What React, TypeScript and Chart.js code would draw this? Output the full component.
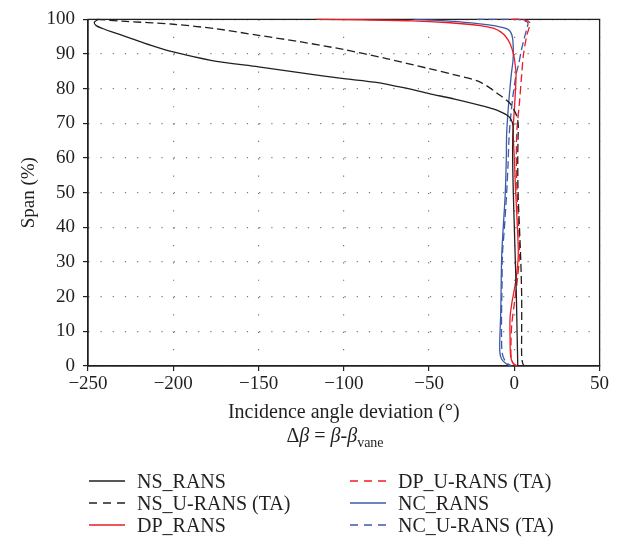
import React, { useEffect, useRef } from 'react';
import { Chart, registerables } from 'chart.js';

Chart.register(...registerables);

// ---------- data (x = incidence angle deviation in degrees, y = span %) ----------
const nsRansX = [-244, -246.3, -245.2, -241, -236, -227, -213, -200, -178, -150, -125, -100, -82, -65, -50, -35, -20, -12, -8, -4, -2, -0.8, -0.9, -1, -0.6, 0, 0.6, 1.2, 1.6, 1.9, 2];
const nsRansY = [100, 99.2, 98.2, 97.3, 96.4, 94.9, 92.5, 90.6, 88.2, 86.3, 84.6, 82.9, 81.9, 80.3, 78.6, 77, 75.2, 74.1, 73.3, 72.3, 71.2, 69.5, 66, 60, 50, 40, 30, 20, 10, 3, 0];

const nsURansX = [-244.5, -230, -200, -175, -150, -125, -100, -75, -50, -35, -20, -8.4, -3, -0.6, 1.5, 2.3, 2.2, 2, 2.2, 3, 3.8, 4.3, 4.3, 4.3, 5, 6];
const nsURansY = [100, 99.5, 98.6, 97.3, 95.4, 93.5, 91.3, 88.7, 85.8, 84, 81.9, 78.1, 76, 74.3, 72, 69.5, 66, 60, 50, 40, 30, 20, 10, 3, 0.6, 0];

const dpRansX = [-116, -90, -60, -40, -20, -12, -8, -5, -2.5, -0.5, 0.5, 1, 0.5, -0.5, -0.6, 0, 0.8, 1.8, 2.3, 1, -1.5, -2.5, -2.5, -2.2, -1, 1];
const dpRansY = [100, 99.9, 99.6, 99.1, 98.2, 97.4, 96.4, 95, 93, 90, 87, 84, 78, 70, 66, 60, 50, 40, 32, 25, 18, 14, 8, 3, 1, 0];

const dpURansX = [-2, 4, 8, 9.2, 8.3, 7.3, 5.3, 4.3, 3, 1.5, 1.2, 1.6, 2.6, 3, 1.8, 0, -1.5, -2, -1.8, -0.5, 2];
const dpURansY = [100, 100, 99.5, 98.8, 97, 95.4, 89.6, 84, 76, 68, 60, 50, 40, 32, 25, 18, 12, 6, 2, 0.7, 0];

const ncRansX = [-59, -40, -25, -15, -8, -4, -2, -1, -0.6, -0.8, -1.8, -3.3, -4.5, -4.7, -5.3, -6.5, -7.4, -7.7, -8, -8.5, -8.5, -7.5, -5, -2.5];
const ncRansY = [100, 99.6, 99, 98.4, 97.8, 97.2, 96.2, 94.5, 91, 88, 84, 76, 67, 60, 50, 40, 32, 24, 15, 8, 4, 2, 0.7, 0];

const ncURansX = [-22, -5, 2, 6, 8, 7.3, 5.8, 4.3, 2.5, 1, -0.8, -2.5, -3.2, -3.7, -4.5, -5.8, -7, -7.2, -7.5, -7.5, -7.2, -6, -4, -1.5];
const ncURansY = [100, 100, 100, 99.6, 99, 97.3, 94.5, 91.5, 87, 84, 78, 70, 65, 58, 50, 40, 32, 24, 15, 8, 4, 2, 0.7, 0];

const xTicks = [-250, -200, -150, -100, -50, 0, 50];
const yTicks = [0, 10, 20, 30, 40, 50, 60, 70, 80, 90, 100];

const seriesLabels = ['NS_RANS', 'NS_U-RANS (TA)', 'DP_RANS', 'DP_U-RANS (TA)', 'NC_RANS', 'NC_U-RANS (TA)'];
const seriesX = [nsRansX, nsURansX, dpRansX, dpURansX, ncRansX, ncURansX];
const seriesY = [nsRansY, nsURansY, dpRansY, dpURansY, ncRansY, ncURansY];

// ---------- styles ----------
const FONT = "'Liberation Serif', 'Times New Roman', serif";
const TEXT = '#231f20';
const BLACK = '#231f20';
const RED = '#ed1c24';
const BLUE = '#3d5aa9';
const seriesColors = [BLACK, BLACK, RED, RED, BLUE, BLUE];
const seriesDashed = [false, true, false, true, false, true];

const fmt = (v: number) => (v < 0 ? '\u2212' + Math.abs(v) : String(v));

const framePlugin = {
  id: 'frame',
  beforeDatasetsDraw(chart: any) {
    const { ctx, chartArea: a } = chart;
    ctx.save();
    ctx.strokeStyle = BLACK;
    ctx.lineWidth = 1.3;
    ctx.setLineDash([]);
    ctx.strokeRect(a.left, a.top, a.right - a.left, a.bottom - a.top);
    ctx.restore();
  },
};

export default function App() {
  const ref = useRef<HTMLCanvasElement | null>(null);

  useEffect(() => {
    if (!ref.current) return;
    const datasets = seriesLabels.map((label, i) => ({
      label,
      data: seriesX[i].map((x, k) => ({ x, y: seriesY[i][k] })),
      showLine: true,
      borderColor: seriesColors[i],
      backgroundColor: seriesColors[i],
      borderWidth: 1.3,
      borderDash: seriesDashed[i] ? [8, 4] : [],
      pointRadius: 0,
      pointHoverRadius: 0,
      tension: 0.3,
      fill: false,
      clip: 3,
    }));

    const chart = new Chart(ref.current, {
      type: 'scatter',
      data: { datasets },
      plugins: [framePlugin],
      options: {
        animation: false,
        responsive: false,
        maintainAspectRatio: false,
        layout: { padding: { left: 0, right: 29.4, top: 19, bottom: 0 } },
        plugins: { legend: { display: false }, tooltip: { enabled: false } },
        scales: {
          x: {
            type: 'linear',
            min: -250,
            max: 50,
            afterFit: (s: any) => { s.height = 172; },
            afterBuildTicks: (s: any) => { s.ticks = xTicks.map((v) => ({ value: v })); },
            ticks: {
              color: TEXT,
              font: { family: FONT, size: 19 },
              padding: 2,
              maxRotation: 0,
              autoSkip: false,
              callback: (v: any) => fmt(Number(v)),
            },
            grid: { color: '#7a7a7a', lineWidth: 1.2, tickColor: BLACK, tickLength: 5, tickWidth: 1.2 },
            border: { display: true, color: BLACK, width: 1.3, dash: [1.2, 16.15] },
            title: {
              display: true,
              text: 'Incidence angle deviation (°)',
              color: TEXT,
              font: { family: FONT, size: 20 },
              padding: { top: 0, bottom: 113 },
            },
          },
          y: {
            type: 'linear',
            min: 0,
            max: 100,
            afterFit: (s: any) => { s.width = 88; },
            afterBuildTicks: (s: any) => { s.ticks = yTicks.map((v) => ({ value: v })); },
            ticks: {
              color: TEXT,
              font: { family: FONT, size: 19 },
              padding: 8,
              autoSkip: false,
              callback: (v: any) => fmt(Number(v)),
            },
            grid: { color: '#7a7a7a', lineWidth: 1.2, tickColor: BLACK, tickLength: 5, tickWidth: 1.2 },
            border: { display: true, color: BLACK, width: 1.3, dash: [1.2, 11] },
            title: {
              display: true,
              text: 'Span (%)',
              color: TEXT,
              font: { family: FONT, size: 19 },
              padding: { top: 18, bottom: 0 },
            },
          },
        },
      } as any,
    });
    return () => chart.destroy();
  }, []);

  const legendPos = [
    { left: 89, top: 481 },
    { left: 89, top: 503 },
    { left: 89, top: 525 },
    { left: 350, top: 481 },
    { left: 350, top: 503 },
    { left: 350, top: 525 },
  ];

  return (
    <div style={{ position: 'absolute', left: 0, top: 0, width: 629, height: 538, background: '#fff', fontFamily: FONT, color: TEXT }}>
      <canvas ref={ref} width={629} height={538} style={{ display: 'block', width: 629, height: 538 }} />
      <div
        style={{
          position: 'absolute',
          left: 235,
          width: 200,
          top: 423,
          textAlign: 'center',
          fontSize: 20,
          lineHeight: '24px',
          whiteSpace: 'nowrap',
        }}
      >
        Δ<i>β</i> = <i>β</i>-<i>β</i>
        <span style={{ fontSize: 14, position: 'relative', top: 5 }}>vane</span>
      </div>
      {seriesLabels.map((label, i) => (
        <div
          key={label}
          style={{
            position: 'absolute',
            left: legendPos[i].left,
            top: legendPos[i].top - 12,
            height: 24,
            display: 'flex',
            alignItems: 'center',
            fontSize: 20,
            lineHeight: '24px',
            whiteSpace: 'nowrap',
          }}
        >
          <svg width={36} height={6} style={{ display: 'block' }}>
            <line
              x1={0}
              y1={3}
              x2={36}
              y2={3}
              stroke={seriesColors[i]}
              strokeWidth={1.3}
              strokeDasharray={seriesDashed[i] ? '8 6' : undefined}
            />
          </svg>
          <span style={{ marginLeft: 12 }}>{label}</span>
        </div>
      ))}
    </div>
  );
}
